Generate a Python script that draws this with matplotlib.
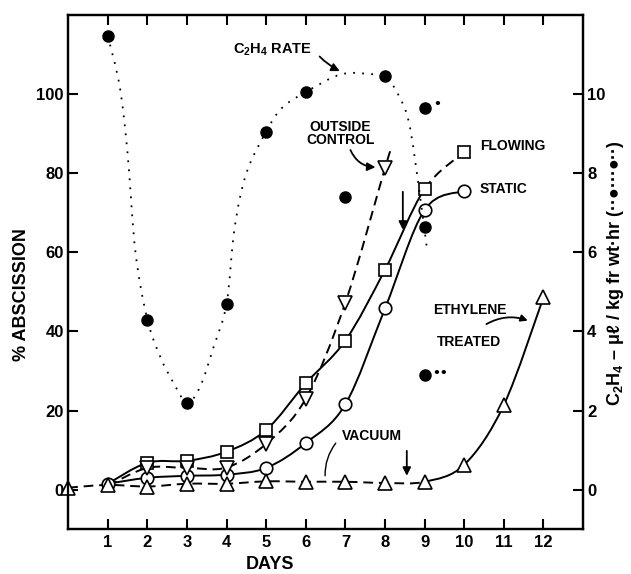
import numpy as np
import matplotlib
matplotlib.use("Agg")
import matplotlib.pyplot as plt
from matplotlib.path import Path
from matplotlib.patches import PathPatch

plt.rcParams["font.family"] = ["Liberation Sans", "DejaVu Sans"]
plt.rcParams["font.weight"] = "bold"
plt.rcParams["mathtext.fontset"] = "custom"
plt.rcParams["mathtext.rm"] = "Liberation Sans:bold"
plt.rcParams["mathtext.default"] = "rm"

# abscission (%) per day
flowing_days = [1, 2, 3, 4, 5, 6, 7, 8, 9, 10]
flowing = [1.5, 6.8, 7.3, 9.6, 15.1, 26.9, 37.7, 55.6, 76.0, 85.3]

static_days = [1, 2, 3, 4, 5, 6, 7, 8, 9, 10]
static = [1.5, 3.0, 3.5, 3.8, 5.5, 11.8, 21.6, 45.8, 70.7, 75.5]

outside_days = [1, 2, 3, 4, 5, 6, 7, 8]
outside = [1.0, 5.5, 5.5, 5.6, 11.6, 23.0, 47.3, 81.3]
outside_tail_day, outside_tail = 8.15, 86.0  # dashed line runs a bit past day 8

vacuum_days = [0, 1, 2, 3, 4, 5, 6, 7, 8, 9, 10, 11, 12]
vacuum = [0.5, 1.2, 0.8, 1.5, 1.5, 2.1, 2.0, 2.0, 1.7, 2.0, 6.3, 21.4, 48.6]

# C2H4 rate (ul / kg fr wt hr), right axis
rate_days = [1, 2, 3, 4, 5, 6, 7, 8, 9, 9, 9]
rate = [11.47, 4.3, 2.2, 4.7, 9.05, 10.05, 7.4, 10.45, 9.65, 6.65, 2.9]

# hand drawn dotted guide curve
rate_curve_days = [1, 1.3, 1.5, 1.7, 2, 2.33, 2.66, 3, 3.33, 3.67, 4, 4.2,
                   4.5, 5, 5.4, 6, 6.9, 7.7, 8, 8.3, 8.6, 8.86, 9.07]
rate_curve = [11.47, 10.2, 8.5, 6.0, 4.3, 3.35, 2.7, 2.2, 2.6, 3.6, 4.7, 6.6,
              8.0, 9.05, 9.65, 10.05, 10.5, 10.5, 10.45, 10.05, 9.3, 7.6, 6.0]

day_ticks = list(range(1, 13))
pct_ticks = [0, 20, 40, 60, 80, 100]
rate_ticks = [0, 2, 4, 6, 8, 10]


def smooth_path(xs, ys, start=0, stop=None):
    # Catmull-Rom through the points, as cubic Bezier segments
    pts = np.column_stack([xs, ys]).astype(float)
    if stop is None:
        stop = len(pts) - 1
    ext = np.vstack([pts[0], pts, pts[-1]])
    verts = [pts[start]]
    codes = [Path.MOVETO]
    for i in range(start, stop):
        p0, p1, p2, p3 = ext[i], ext[i + 1], ext[i + 2], ext[i + 3]
        verts += [p1 + (p2 - p0) / 6, p2 - (p3 - p1) / 6, p2]
        codes += [Path.CURVE4] * 3
    return Path(verts, codes)


def curve(ax, xs, ys, ls, start=0, stop=None, lw=1.4):
    ax.add_patch(PathPatch(smooth_path(xs, ys, start, stop), fill=False,
                           lw=lw, ls=ls, color="black", capstyle="butt"))


fig = plt.figure(figsize=(6.31, 5.74), dpi=100)
ax = fig.add_axes([0.108, 0.078, 0.816, 0.896])
ax2 = ax.twinx()

dash = (0, (5, 3))
mk = dict(color="black", mfc="white", mec="black", mew=1.2, ls="none", zorder=5)

# flowing
curve(ax, flowing_days, flowing, "-", 0, 8)
curve(ax, flowing_days, flowing, dash, 8, 9)
ax.plot(flowing_days[1:], flowing[1:], marker="s", ms=9, **mk)

# static
curve(ax, static_days, static, "-")
ax.plot(static_days, static, marker="o", ms=9, **mk)

# outside control
curve(ax, outside_days + [outside_tail_day], outside + [outside_tail], dash)
ax.plot(outside_days[1:], outside[1:], marker="v", ms=10, **mk)

# vacuum, then ethylene treated
curve(ax, vacuum_days, vacuum, dash, 0, 9)
curve(ax, vacuum_days, vacuum, "-", 9, 12)
ax.plot(vacuum_days, vacuum, marker="^", ms=10, clip_on=False, **mk)

# ethylene rate
curve(ax2, rate_curve_days, rate_curve, (0, (1, 4)), lw=1.3)
ax2.plot(rate_days, rate, "o", color="black", ms=8, zorder=6)

ax.set_xlim(0, 13)
ax.set_ylim(-10, 120)
ax2.set_ylim(-1, 12)
ax.set_xticks(day_ticks)
ax.set_yticks(pct_ticks)
ax2.set_yticks(rate_ticks)
ax.tick_params(axis="x", direction="in", top=True, length=7, width=1.5,
               labelsize=12, pad=4)
ax.tick_params(axis="y", direction="in", length=7, width=1.5, labelsize=12,
               pad=3)
ax2.tick_params(axis="y", direction="in", length=7, width=1.5, labelsize=12,
                pad=3)
for a in (ax, ax2):
    for s in a.spines.values():
        s.set_linewidth(1.6)

ax.text(5.1, -19, "DAYS", fontsize=13, ha="center", va="center")
fig.text(0.034, 0.487, "% ABSCISSION", rotation=90, fontsize=13,
         ha="center", va="center")
fig.text(0.975, 0.524, "C$_2$H$_4$ – μℓ / kg fr wt·hr (··●···●··)",
         rotation=90, fontsize=13, ha="center", va="center")

# annotations
ax.text(4.17, 111.2, "C$_2$H$_4$ RATE", fontsize=10.5, va="center")
ax.annotate("", xy=(6.92, 105.5), xytext=(6.3, 110),
            arrowprops=dict(arrowstyle="-|>", color="black", lw=1.3,
                            connectionstyle="arc3,rad=0.1", mutation_scale=12))
ax.text(6.87, 90, "OUTSIDE\nCONTROL", fontsize=10, ha="center", va="center",
        linespacing=0.95)
ax.annotate("", xy=(7.83, 81.5), xytext=(7.1, 86.5),
            arrowprops=dict(arrowstyle="-|>", color="black", lw=1.3,
                            connectionstyle="arc3,rad=0.35", mutation_scale=12))
ax.text(10.4, 86.8, "FLOWING", fontsize=10, va="center")
ax.text(10.4, 76, "STATIC", fontsize=10, va="center")
ax.text(9.22, 45.3, "ETHYLENE", fontsize=10, va="center")
ax.text(9.32, 37.2, "TREATED", fontsize=10, va="center")
ax.annotate("", xy=(11.67, 42.5), xytext=(10.5, 41.5),
            arrowprops=dict(arrowstyle="-|>", color="black", lw=1.3,
                            connectionstyle="arc3,rad=-0.25", mutation_scale=10))
ax.text(6.92, 13.6, "VACUUM", fontsize=10, va="center")
ax.annotate("", xy=(6.49, 2.8), xytext=(6.8, 12.3),
            arrowprops=dict(arrowstyle="-", color="black", lw=1.0,
                            connectionstyle="arc3,rad=0.2"))
ax.annotate("", xy=(8.45, 65), xytext=(8.45, 76),
            arrowprops=dict(arrowstyle="-|>", color="black", lw=1.3,
                            mutation_scale=12))
ax.annotate("", xy=(8.55, 2.8), xytext=(8.55, 10.5),
            arrowprops=dict(arrowstyle="-|>", color="black", lw=1.3,
                            mutation_scale=12))
ax2.text(9.22, 9.74, "•", fontsize=9, va="center", family="DejaVu Sans")
ax2.text(9.2, 2.94, "••", fontsize=9, va="center", family="DejaVu Sans")

fig.savefig("out.png", dpi=100)
